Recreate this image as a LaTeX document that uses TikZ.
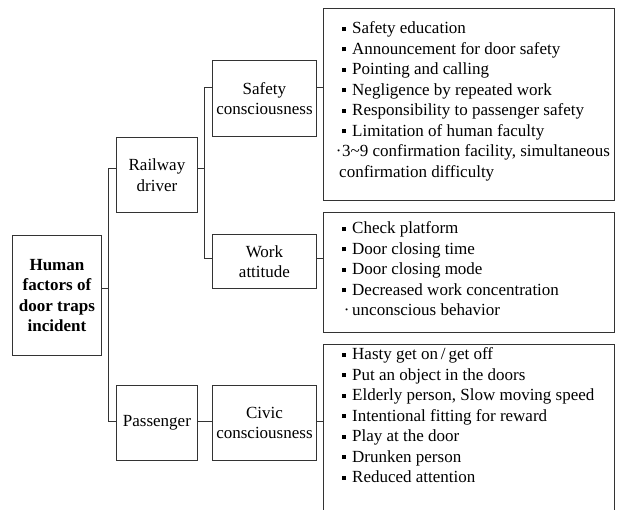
\documentclass[tikz,border=0pt]{standalone}
\usepackage{fontspec}
\setmainfont{Liberation Serif}
\newcommand\sqbul{\makebox[10pt][l]{\rule[3pt]{3.3pt}{4pt}}}
\newcommand\itm{\hspace*{7pt}\sqbul}
\begin{document}
\begin{tikzpicture}[x=1pt,y=-1pt,
  box/.style={draw=black!80, line width=0.9pt, inner sep=0pt, anchor=north west,
    align=center, font=\fontsize{17pt}{20.5pt}\selectfont},
  conn/.style={draw=black!80, line width=0.9pt},
  lst/.style={anchor=base west, inner sep=0pt}]
\useasboundingbox (0,0) rectangle (623,510);
\clip (0,0) rectangle (623,510);
% boxes
\node[box, minimum width=89pt, minimum height=120pt, font=\fontsize{17pt}{20.5pt}\selectfont\bfseries] (root) at (12,235) {Human\\factors of\\door traps\\incident};
\node[box, minimum width=81pt, minimum height=75pt] (drv) at (116,137) {Railway\\driver};
\node[box, minimum width=81pt, minimum height=75pt] (pas) at (116,385) {Passenger};
\node[box, minimum width=104pt, minimum height=76pt] (sc) at (212,60) {Safety\\consciousness};
\node[box, minimum width=104pt, minimum height=54pt] (wa) at (212,234) {Work\\attitude};
\node[box, minimum width=104pt, minimum height=75pt] (cv) at (212,385) {Civic\\consciousness};
\node[box, minimum width=291pt, minimum height=192pt] (b1) at (323,8) {};
\node[box, minimum width=291pt, minimum height=120pt] (b2) at (323,212) {};
\node[box, minimum width=291pt, minimum height=190pt] (b3) at (323,344) {};
% lists
\node[lst] (l1) at (335,34) {\begin{minipage}[t]{285pt}\fontsize{17pt}{20.5pt}\selectfont
\itm Safety education\\
\itm Announcement for door safety\\
\itm Pointing and calling\\
\itm Negligence by repeated work\\
\itm Responsibility to passenger safety\\
\itm Limitation of human faculty\\
\makebox[7pt][c]{·}3\textasciitilde 9 confirmation facility, simultaneous\\
\hspace*{4pt}confirmation difficulty
\end{minipage}};
\node[lst] (l2) at (335,234) {\begin{minipage}[t]{285pt}\fontsize{17pt}{20.5pt}\selectfont
\itm Check platform\\
\itm Door closing time\\
\itm Door closing mode\\
\itm Decreased work concentration\\
\hspace*{6pt}\makebox[11pt][c]{·}unconscious behavior
\end{minipage}};
\node[lst] (l3) at (335,359.5) {\begin{minipage}[t]{285pt}\fontsize{17pt}{20.5pt}\selectfont
\itm Hasty get on\,/\,get off\\
\itm Put an object in the doors\\
\itm Elderly person, Slow moving speed\\
\itm Intentional fitting for reward\\
\itm Play at the door\\
\itm Drunken person\\
\itm Reduced attention
\end{minipage}};
% junction coordinates
\coordinate (r0) at (108,288);
\coordinate (t1) at (108,168);
\coordinate (t2) at (108,421);
\coordinate (d0) at (204,168);
\coordinate (d1) at (204,87);
\coordinate (d2) at (204,258);
\coordinate (p0) at (0,421);
% connectors
\draw[conn] (root.east |- r0) -- (r0);
\draw[conn] (drv.west |- t1) -- (t1) -- (t2) -- (pas.west |- t2);
\draw[conn] (drv.east |- d0) -- (d0);
\draw[conn] (sc.west |- d1) -- (d1) -- (d2) -- (wa.west |- d2);
\draw[conn] (sc.east |- d1) -- (b1.west |- d1);
\draw[conn] (wa.east |- d2) -- (b2.west |- d2);
\draw[conn] (pas.east |- p0) -- (cv.west |- p0);
\draw[conn] (cv.east |- p0) -- (b3.west |- p0);
\end{tikzpicture}
\end{document}
